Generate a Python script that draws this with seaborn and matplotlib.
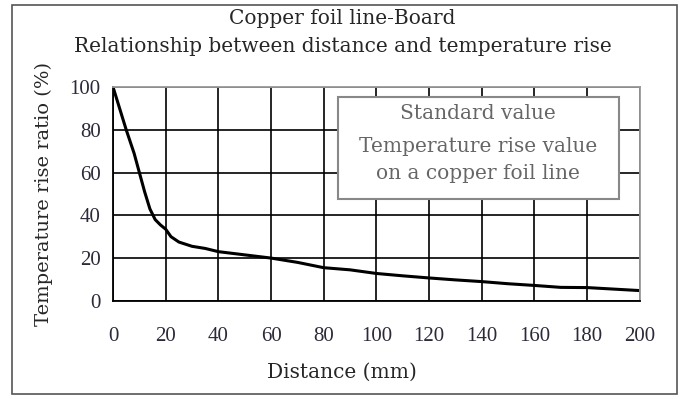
import matplotlib
matplotlib.use("Agg")
import matplotlib.pyplot as plt
import matplotlib.patches as mpatches
import seaborn as sns
import pandas as pd

distance = [0, 3, 5, 8, 10, 12, 14, 16, 18, 20, 22, 25, 30, 35, 40, 50, 60, 70, 80, 90,
            100, 110, 120, 130, 140, 150, 160, 170, 180, 190, 200]
temp_ratio = [100, 88, 80, 69, 60, 51, 43, 38, 35.5, 33.5, 30, 27.5, 25.5, 24.5, 23, 21.5, 20, 18, 15.5, 14.5,
              12.8, 11.7, 10.7, 9.8, 9, 8, 7.2, 6.3, 6.2, 5.5, 4.8]
x_ticks = [0, 20, 40, 60, 80, 100, 120, 140, 160, 180, 200]
y_ticks = [0, 20, 40, 60, 80, 100]
title_lines = ["Copper foil line-Board", "Relationship between distance and temperature rise"]
legend_lines = ["Standard value", "Temperature rise value", "on a copper foil line"]

sns.set_style("white")
plt.rcParams['font.family'] = ['DejaVu Serif']

df = pd.DataFrame({"Distance (mm)": distance, "Temperature rise ratio (%)": temp_ratio})

fig = plt.figure(figsize=(6.85, 3.99), dpi=100)
ax = fig.add_axes([0.165, 0.246, 0.769, 0.536])
sns.lineplot(data=df, x="Distance (mm)", y="Temperature rise ratio (%)", ax=ax,
             color="black", linewidth=2.2)

ax.set_xlim(0, 200)
ax.set_ylim(0, 100)
ax.set_xticks(x_ticks)
ax.set_yticks(y_ticks)
ax.set_xticklabels([str(t) for t in x_ticks], family="Liberation Serif", fontsize=15, color="#2a2a3a")
ax.set_yticklabels([str(t) for t in y_ticks], family="Liberation Serif", fontsize=15, color="#2a2a3a")
ax.tick_params(axis="x", length=0, pad=19)
ax.tick_params(axis="y", length=0, pad=9)
ax.grid(True, color="black", linewidth=1.2)
for side in ["left", "bottom"]:
    ax.spines[side].set_color("black")
    ax.spines[side].set_linewidth(1.3)
for side in ["top", "right"]:
    ax.spines[side].set_color("#999999")
    ax.spines[side].set_linewidth(1.3)

ax.set_xlabel("Distance (mm)", fontsize=14.5, va="center")
ax.xaxis.set_label_coords(0.435, -0.332)
ax.set_ylabel("Temperature rise ratio (%)", fontsize=14, labelpad=12)

fig.text(0.5, 0.953, title_lines[0], ha="center", va="center", fontsize=14.5)
fig.text(0.5, 0.884, title_lines[1], ha="center", va="center", fontsize=14.5)

# legend-like box
ax.add_patch(mpatches.Rectangle((0.427, 0.477), 0.533, 0.476, transform=ax.transAxes,
                                facecolor="white", edgecolor="#888888", linewidth=1.5, zorder=5))
for txt, yy in zip(legend_lines, [0.874, 0.72, 0.594]):
    ax.text(0.693, yy, txt, transform=ax.transAxes, ha="center", va="center",
            fontsize=14.5, color="#666666", zorder=6)

fig.patches.append(mpatches.Rectangle((12 / 685, 5 / 399), 665 / 685, 389 / 399,
                                      transform=fig.transFigure, fill=False,
                                      edgecolor="#555555", linewidth=1.2))

fig.savefig("out.png", dpi=100)
